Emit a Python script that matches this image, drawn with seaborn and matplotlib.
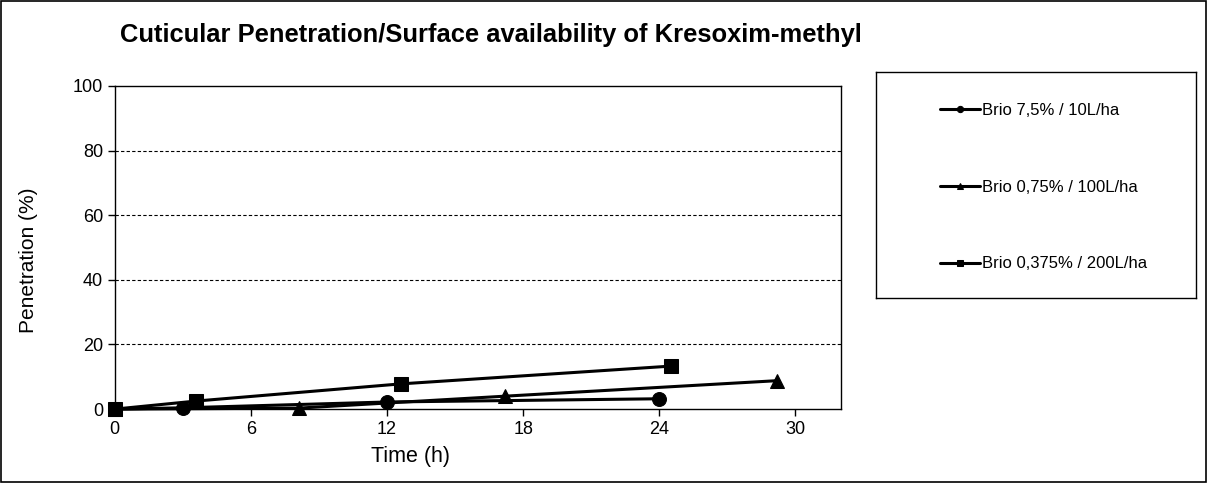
import numpy as np
import pandas as pd
import matplotlib
matplotlib.use("Agg")
import matplotlib.pyplot as plt
import seaborn as sns
from matplotlib.patches import Rectangle

# data
labels = ["Brio 7,5% / 10L/ha", "Brio 0,75% / 100L/ha", "Brio 0,375% / 200L/ha"]
time_75 = [0, 3.0, 12.0, 24.0]
pen_75 = [0, 0.4, 2.2, 3.2]
time_075 = [0, 8.1, 17.2, 29.2]
pen_075 = [0, 0.3, 4.0, 8.8]
time_0375 = [0, 3.6, 12.6, 24.5]
pen_0375 = [0, 2.5, 7.8, 13.3]

xticks = [0, 6, 12, 18, 24, 30]
yticks = [0, 20, 40, 60, 80, 100]

df = pd.concat([
    pd.DataFrame({"time": time_75, "pen": pen_75, "series": labels[0]}),
    pd.DataFrame({"time": time_075, "pen": pen_075, "series": labels[1]}),
    pd.DataFrame({"time": time_0375, "pen": pen_0375, "series": labels[2]}),
])

sns.set_style("white")
plt.rcParams['font.family'] = ['Liberation Sans', 'DejaVu Sans']
plt.rcParams['text.color'] = 'black'
plt.rcParams['axes.labelcolor'] = 'black'
plt.rcParams['xtick.color'] = 'black'
plt.rcParams['ytick.color'] = 'black'

fig = plt.figure(figsize=(12.08, 4.83), dpi=100)
fig.patches.append(Rectangle((0.001, 0.002), 0.997, 0.995, transform=fig.transFigure,
                             fill=False, edgecolor='black', linewidth=1.2))

ax = fig.add_axes([0.095, 0.153, 0.601, 0.669])
sns.lineplot(data=df, x="time", y="pen", hue="series", style="series",
             palette=["black"] * 3, markers={labels[0]: "o", labels[1]: "^", labels[2]: "s"},
             dashes=False, sort=False, linewidth=2.2, markersize=10,
             markeredgecolor='black', ax=ax, legend=True, clip_on=False)

ax.set_xlim(0, 32)
ax.set_ylim(0, 100)
ax.set_xticks(xticks)
ax.set_yticks(yticks)
ax.tick_params(axis='both', direction='out', length=5, width=1, labelsize=13, color='black',
               labelcolor='black', bottom=True, left=True)
for y in yticks[1:-1]:
    ax.axhline(y, color='black', linestyle=(0, (3, 2)), linewidth=0.8, zorder=0)
for s in ax.spines.values():
    s.set_color('black')
    s.set_linewidth(1)
ax.set_xlabel("Time (h)", fontsize=15.5)
ax.set_ylabel("Penetration (%)", fontsize=15)
ax.xaxis.set_label_coords(0.407, -0.115)
ax.yaxis.set_label_coords(-0.106, 0.46)

handles, labs = ax.get_legend_handles_labels()
ax.get_legend().remove()

fig.text(0.099, 0.927, "Cuticular Penetration/Surface availability of Kresoxim-methyl",
         fontsize=18.4, fontweight='bold', ha='left', va='center', color='black')

lax = fig.add_axes([0.725, 0.383, 0.265, 0.468])
lax.set_xticks([])
lax.set_yticks([])
for s in lax.spines.values():
    s.set_color('black')
    s.set_linewidth(1)
lax.legend(handles, labs, loc='center left', frameon=False, markerscale=0.45,
           labelspacing=3.7, handlelength=2.4, handletextpad=0.1, fontsize=12,
           borderpad=0, bbox_to_anchor=(0.175, 0.49), labelcolor='black')

fig.savefig("out.png", dpi=100)
